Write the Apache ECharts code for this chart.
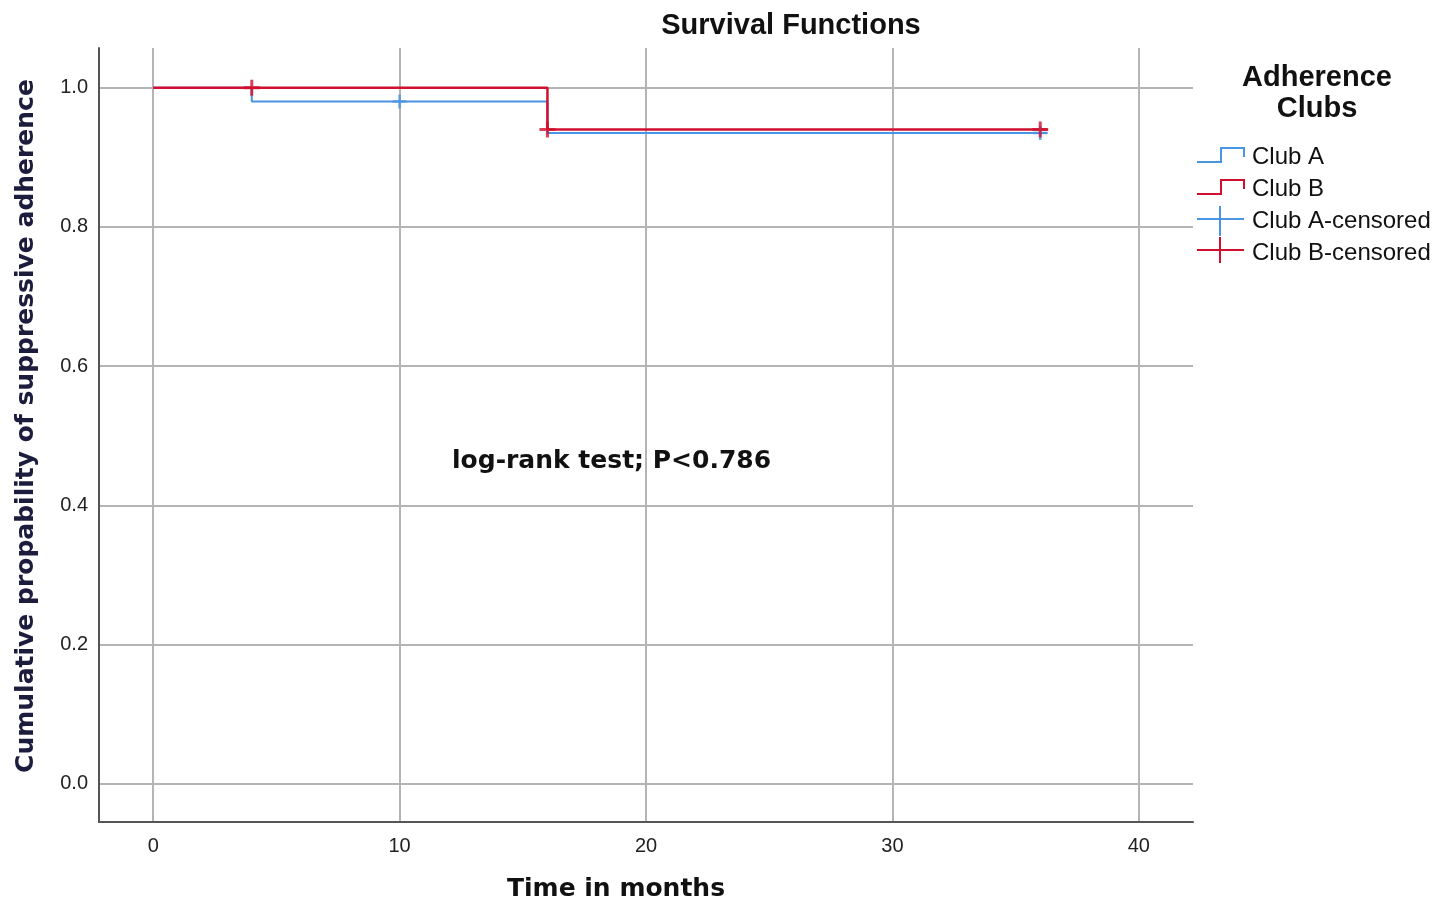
<!DOCTYPE html>
<html>
<head>
<meta charset="utf-8">
<title>Survival Functions</title>
<script src="https://cdn.jsdelivr.net/npm/echarts@6/dist/echarts.min.js"></script>
<style>
  html, body { margin: 0; padding: 0; background: #fff; }
  #chart { width: 1452px; height: 903px; }
</style>
</head>
<body>
<div id="chart"></div>
<script>
// Kaplan-Meier steps (time in months, cumulative probability)
const clubATime = [0, 4, 16, 36.3];
const clubASurv = [1.0, 0.98, 0.935, 0.935];
const clubBTime = [0, 16, 36.3];
const clubBSurv = [1.0, 0.94, 0.94];

// censored observations
const clubACensTime = [10, 36];
const clubACensSurv = [0.98, 0.935];
const clubBCensTime = [4, 16, 36];
const clubBCensSurv = [1.0, 0.94, 0.94];

const xTicks = [0, 10, 20, 30, 40];
const yTicks = [0, 0.2, 0.4, 0.6, 0.8, 1.0];

const blue = '#4a94e4';
const red = '#d0102e';
const cross = 'path://M0,-10 L0,10 M-10,0 L10,0';

const pairs = (xs, ys) => xs.map((x, i) => [x, ys[i]]);

const chart = echarts.init(document.getElementById('chart'));

const option = {
  animation: false,
  backgroundColor: '#fff',
  title: {
    text: 'Survival Functions',
    left: 786,
    top: 6,
    textAlign: 'center',
    textStyle: { fontFamily: 'Liberation Sans', fontWeight: 'bold', fontSize: 29, color: '#111' }
  },
  grid: { left: 99, right: 259, top: 48, bottom: 81, outerBoundsMode: 'none', containLabel: false },
  xAxis: {
    type: 'value',
    min: -2.2,
    max: 42.2,
    name: 'Time in months',
    nameLocation: 'middle',
    nameGap: 55,
    nameTextStyle: { fontFamily: 'DejaVu Sans', fontWeight: 'bold', fontSize: 25, color: '#111', padding: [0, 60, 0, 0] },
    axisLine: { onZero: false, lineStyle: { color: '#555', width: 2 } },
    axisTick: { show: false, customValues: xTicks },
    axisLabel: { customValues: xTicks, margin: 14, fontFamily: 'Liberation Sans', fontSize: 20, color: '#222' },
    splitLine: { show: true, lineStyle: { color: '#b4b4b4', width: 2 } }
  },
  yAxis: {
    type: 'value',
    min: -0.055,
    max: 1.057,
    name: 'Cumulative propability of suppressive adherence',
    nameLocation: 'middle',
    nameGap: 60,
    nameTextStyle: { fontFamily: 'DejaVu Sans', fontWeight: 'bold', fontSize: 25, color: '#1c1c3c', padding: [0, 0, 0, 18] },
    axisLine: { show: true, onZero: false, lineStyle: { color: '#555', width: 2 } },
    axisTick: { show: false, customValues: yTicks },
    axisLabel: {
      customValues: yTicks,
      margin: 11,
      fontFamily: 'Liberation Sans',
      fontSize: 20,
      color: '#222',
      formatter: v => v.toFixed(1)
    },
    splitLine: { show: true, lineStyle: { color: '#b4b4b4', width: 2 } }
  },
  series: [
    {
      name: 'Club A',
      type: 'line',
      step: 'end',
      data: pairs(clubATime, clubASurv),
      showSymbol: false,
      lineStyle: { color: blue, width: 2 },
      z: 3
    },
    {
      name: 'Club B',
      type: 'line',
      step: 'end',
      data: pairs(clubBTime, clubBSurv),
      showSymbol: false,
      lineStyle: { color: red, width: 2.5 },
      z: 4
    },
    {
      name: 'Club A-censored',
      type: 'scatter',
      data: pairs(clubACensTime, clubACensSurv),
      symbol: cross,
      symbolSize: 14,
      itemStyle: { color: 'transparent', borderColor: blue, borderWidth: 2.5 },
      z: 5
    },
    {
      name: 'Club B-censored',
      type: 'scatter',
      data: pairs(clubBCensTime, clubBCensSurv),
      symbol: cross,
      symbolSize: 16,
      itemStyle: { color: 'transparent', borderColor: red, borderWidth: 3 },
      z: 6
    }
  ],
  graphic: [
    {
      type: 'text',
      left: 452,
      top: 449,
      style: { text: 'log-rank test; P<0.786', fontFamily: 'DejaVu Sans', fontWeight: 'bold', fontSize: 25, fill: '#111' },
      z: 10
    },
    {
      type: 'text',
      x: 1317,
      y: 62,
      style: {
        text: 'Adherence\nClubs',
        fontFamily: 'Liberation Sans',
        fontWeight: 'bold',
        fontSize: 29,
        lineHeight: 31,
        align: 'center',
        fill: '#111'
      }
    },
    { type: 'polyline', shape: { points: [[1197, 162], [1221, 162], [1221, 148], [1244, 148], [1244, 157]] }, style: { stroke: blue, lineWidth: 2, fill: null } },
    { type: 'polyline', shape: { points: [[1197, 194], [1221, 194], [1221, 180], [1244, 180], [1244, 189]] }, style: { stroke: red, lineWidth: 2, fill: null } },
    { type: 'line', shape: { x1: 1197, y1: 219, x2: 1244, y2: 219 }, style: { stroke: blue, lineWidth: 2 } },
    { type: 'line', shape: { x1: 1220, y1: 206, x2: 1220, y2: 236 }, style: { stroke: blue, lineWidth: 2 } },
    { type: 'line', shape: { x1: 1197, y1: 250, x2: 1244, y2: 250 }, style: { stroke: red, lineWidth: 2 } },
    { type: 'line', shape: { x1: 1220, y1: 237, x2: 1220, y2: 263 }, style: { stroke: red, lineWidth: 2 } },
    {
      type: 'group',
      left: 1252,
      top: 145,
      children: ['Club A', 'Club B', 'Club A-censored', 'Club B-censored'].map((t, i) => ({
        type: 'text',
        x: 0,
        y: i * 32,
        style: { text: t, fontFamily: 'Liberation Sans', fontSize: 24, fill: '#111' }
      }))
    }
  ]
};

chart.setOption(option);
</script>
</body>
</html>
